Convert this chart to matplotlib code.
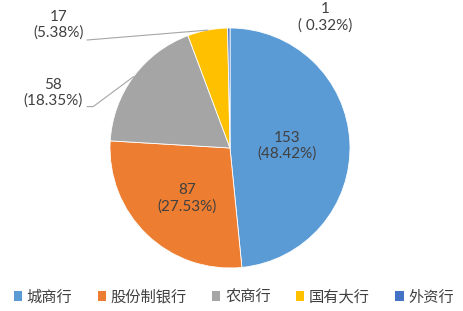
import matplotlib.pyplot as plt
import numpy as np
from matplotlib.patches import Patch

plt.rcParams['font.family'] = ['Lato', 'Noto Sans CJK SC', 'DejaVu Sans']

# 数据
categories = ["城商行", "股份制银行", "农商行", "国有大行", "外资行"]
counts = [153, 87, 58, 17, 1]
percents = ["48.42%", "27.53%", "18.35%", "5.38%", " 0.32%"]
colors = ["#5B9BD5", "#ED7D31", "#A5A5A5", "#FFC000", "#4472C4"]

W, H = 463, 311
fig = plt.figure(figsize=(W / 100, H / 100), dpi=100)
cx, cy, r = 230, 148, 120
ax = fig.add_axes([(cx - r) / W, (H - cy - r) / H, 2 * r / W, 2 * r / H])

wedges, _ = ax.pie(counts, colors=colors, startangle=90, counterclock=False,
                   radius=1, wedgeprops=dict(edgecolor="white", linewidth=0.6))
ax.set_xlim(-1, 1)
ax.set_ylim(-1, 1)
ax.set_aspect("equal")
ax.axis("off")

txt = "#404040"
# 标签位置（数据坐标）
label_pos = [(0.475, 0.02), (-0.36, -0.42), (-1.475, 0.46), (-1.43, 1.025), (0.79, 1.09)]
for i, (x, y) in enumerate(label_pos):
    ax.text(x, y, f"{counts[i]}\n({percents[i]})", ha="center", va="center",
            fontsize=11, color=txt, linespacing=1.15, clip_on=False)

# 引导线
def edge_point(w):
    a = np.deg2rad((w.theta1 + w.theta2) / 2)
    return np.cos(a), np.sin(a)

ex, ey = edge_point(wedges[3])
ax.plot([-1.19, ex], [0.90, ey], color="#A6A6A6", lw=0.8, clip_on=False)
ex, ey = edge_point(wedges[2])
ax.plot([-1.19, -1.14, ex], [0.345, 0.345, ey], color="#A6A6A6", lw=0.8, clip_on=False)

handles = [Patch(facecolor=c, edgecolor="none") for c in colors]
fig.legend(handles, categories, loc="center", bbox_to_anchor=(0.505, 1 - 297 / H),
           ncol=5, frameon=False, handlelength=0.55, handleheight=0.55,
           handletextpad=0.3, columnspacing=1.65,
           prop={'family': ['Noto Sans CJK SC'], 'size': 11})
for t in fig.legends[0].get_texts():
    t.set_color(txt)

plt.savefig("out.png", dpi=100)
